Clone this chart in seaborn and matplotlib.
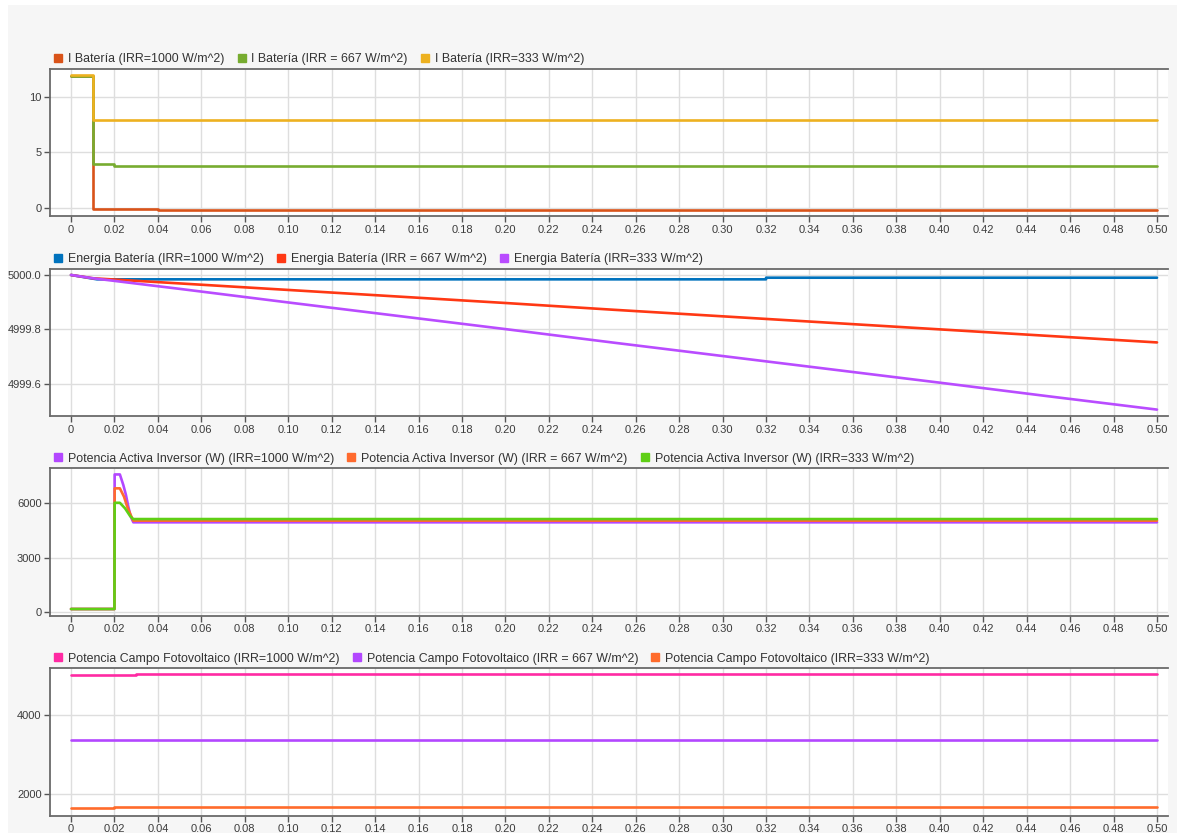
import numpy as np
import pandas as pd
import matplotlib
matplotlib.use("Agg")
import matplotlib.pyplot as plt
from matplotlib.lines import Line2D
from matplotlib.patches import Rectangle
from matplotlib.ticker import FixedLocator, FuncFormatter
import seaborn as sns

# ---------------- data ----------------
# Panel 1: battery current (A)
ibat_1000_t = [0.0, 0.01, 0.01, 0.04, 0.04, 0.50]
ibat_1000_v = [11.9, 11.9, -0.05, -0.05, -0.15, -0.15]
ibat_667_t = [0.0, 0.01, 0.01, 0.02, 0.02, 0.50]
ibat_667_v = [11.9, 11.9, 3.92, 3.92, 3.8, 3.8]
ibat_333_t = [0.0, 0.01, 0.01, 0.50]
ibat_333_v = [12.0, 12.0, 7.96, 7.96]

# Panel 2: battery energy
ener_1000_t = [0.0, 0.012, 0.32, 0.32, 0.50]
ener_1000_v = [5000.0, 4999.984, 4999.984, 4999.990, 4999.990]
ener_t = [0.0, 0.01, 0.05, 0.10, 0.15, 0.20, 0.25, 0.30, 0.35, 0.40, 0.45, 0.50]
ener_667_v = [5000.0, 4999.988, 4999.969, 4999.945, 4999.921, 4999.897,
              4999.872, 4999.848, 4999.824, 4999.800, 4999.776, 4999.752]
ener_333_v = [5000.0, 4999.988, 4999.949, 4999.899, 4999.850, 4999.801,
              4999.751, 4999.702, 4999.653, 4999.604, 4999.554, 4999.505]

# Panel 3: inverter active power (W)
pinv_1000_t = [0.0, 0.0200, 0.0201, 0.0225, 0.0241, 0.0253, 0.0264, 0.0275, 0.0287, 0.50]
pinv_1000_v = [150, 150, 7600, 7600, 7010, 6460, 5810, 5260, 4950, 4950]
pinv_667_t = [0.0, 0.0200, 0.0201, 0.0225, 0.0244, 0.0259, 0.0275, 0.0287, 0.50]
pinv_667_v = [150, 150, 6830, 6830, 6370, 5810, 5350, 5040, 5040]
pinv_333_t = [0.0, 0.0200, 0.0201, 0.0225, 0.0249, 0.0272, 0.0286, 0.50]
pinv_333_v = [150, 150, 6030, 6030, 5720, 5300, 5130, 5130]

# Panel 4: PV array power (W)
ppv_1000_t = [0.0, 0.03, 0.03, 0.50]
ppv_1000_v = [5020, 5020, 5050, 5050]
ppv_667_t = [0.0, 0.50]
ppv_667_v = [3375, 3375]
ppv_333_t = [0.0, 0.02, 0.02, 0.50]
ppv_333_v = [1645, 1645, 1675, 1675]

x_ticks = [round(0.02 * i, 2) for i in range(26)]

panels = [
    {
        "series": [
            ("I Batería (IRR=1000 W/m^2)", ibat_1000_t, ibat_1000_v, "#d95319"),
            ("I Batería (IRR = 667 W/m^2)", ibat_667_t, ibat_667_v, "#77ac30"),
            ("I Batería (IRR=333 W/m^2)", ibat_333_t, ibat_333_v, "#edb120"),
        ],
        "ylim": (-0.75, 12.5),
        "yticks": [0, 5, 10],
        "yfmt": "{:.0f}",
    },
    {
        "series": [
            ("Energia Batería (IRR=1000 W/m^2)", ener_1000_t, ener_1000_v, "#0072bd"),
            ("Energia Batería (IRR = 667 W/m^2)", ener_t, ener_667_v, "#ff3814"),
            ("Energia Batería (IRR=333 W/m^2)", ener_t, ener_333_v, "#b94cff"),
        ],
        "ylim": (4999.48, 5000.022),
        "yticks": [4999.6, 4999.8, 5000.0],
        "yfmt": "{:.1f}",
    },
    {
        "series": [
            ("Potencia Activa Inversor (W) (IRR=1000 W/m^2)", pinv_1000_t, pinv_1000_v, "#b347ff"),
            ("Potencia Activa Inversor (W) (IRR = 667 W/m^2)", pinv_667_t, pinv_667_v, "#ff6a2e"),
            ("Potencia Activa Inversor (W) (IRR=333 W/m^2)", pinv_333_t, pinv_333_v, "#5fcf15"),
        ],
        "ylim": (-220, 7940),
        "yticks": [0, 3000, 6000],
        "yfmt": "{:.0f}",
    },
    {
        "series": [
            ("Potencia Campo Fotovoltaico (IRR=1000 W/m^2)", ppv_1000_t, ppv_1000_v, "#ff2aa3"),
            ("Potencia Campo Fotovoltaico (IRR = 667 W/m^2)", ppv_667_t, ppv_667_v, "#b347ff"),
            ("Potencia Campo Fotovoltaico (IRR=333 W/m^2)", ppv_333_t, ppv_333_v, "#ff6b2b"),
        ],
        "ylim": (1458, 5190),
        "yticks": [2000, 4000],
        "yfmt": "{:.0f}",
    },
]

# ---------------- styling ----------------
sns.set_style("white")
plt.rcParams["font.family"] = ["Liberation Sans", "DejaVu Sans"]

W, H = 1177, 833
fig = plt.figure(figsize=(W / 100, H / 100), dpi=100, facecolor="white")
fig.patches.append(Rectangle((8 / W, 0), 1 - 8 / W, 1 - 5 / H, transform=fig.transFigure,
                             facecolor="#f6f6f6", edgecolor="none", zorder=-10))

left_px, right_px = 50, 1168
tops_px = [69, 269, 468.3, 668.3]
height_px = 147.4
xlim = (-21 / 2172, 0.5 + 11 / 2172)

def fmt_x(v, _):
    return "0" if abs(v) < 1e-9 else f"{v:.2f}"

for p, top in zip(panels, tops_px):
    ax = fig.add_axes([left_px / W, (H - top - height_px) / H,
                       (right_px - left_px) / W, height_px / H])
    ax.set_facecolor("white")
    handles = []
    for label, t, v, c in p["series"]:
        df = pd.DataFrame({"t": t, "v": v})
        sns.lineplot(data=df, x="t", y="v", ax=ax, color=c, linewidth=1.9,
                     estimator=None, sort=False, legend=False)
        handles.append(Line2D([], [], linestyle="none", marker="s", markersize=6.2,
                              markerfacecolor=c, markeredgecolor=c, label=label))
    ax.set_xlim(*xlim)
    ax.set_ylim(*p["ylim"])
    ax.xaxis.set_major_locator(FixedLocator(x_ticks))
    ax.xaxis.set_major_formatter(FuncFormatter(fmt_x))
    ax.yaxis.set_major_locator(FixedLocator(p["yticks"]))
    ax.yaxis.set_major_formatter(FuncFormatter(lambda v, _, f=p["yfmt"]: f.format(v)))
    ax.set_xlabel("")
    ax.set_ylabel("")
    ax.grid(True, color="#dedede", linewidth=1.0)
    ax.set_axisbelow(True)
    for side in ("top", "left", "bottom"):
        ax.spines[side].set_visible(True)
        ax.spines[side].set_color("#6a6a6a")
        ax.spines[side].set_linewidth(1.3)
    ax.spines["right"].set_visible(False)
    ax.tick_params(axis="both", which="major", direction="out", length=4, width=1,
                   color="#555555", labelsize=8.0, labelcolor="#3c3c3c", pad=2,
                   bottom=True, left=True)
    ax.legend(handles=handles, loc="lower left", bbox_to_anchor=(0, 1), ncol=3,
              frameon=False, fontsize=8.9, handlelength=0.7, handletextpad=0.45,
              columnspacing=1.05, borderaxespad=0.1, borderpad=0.2,
              labelcolor="#333333")

fig.savefig("out.png", dpi=100, facecolor=fig.get_facecolor())
